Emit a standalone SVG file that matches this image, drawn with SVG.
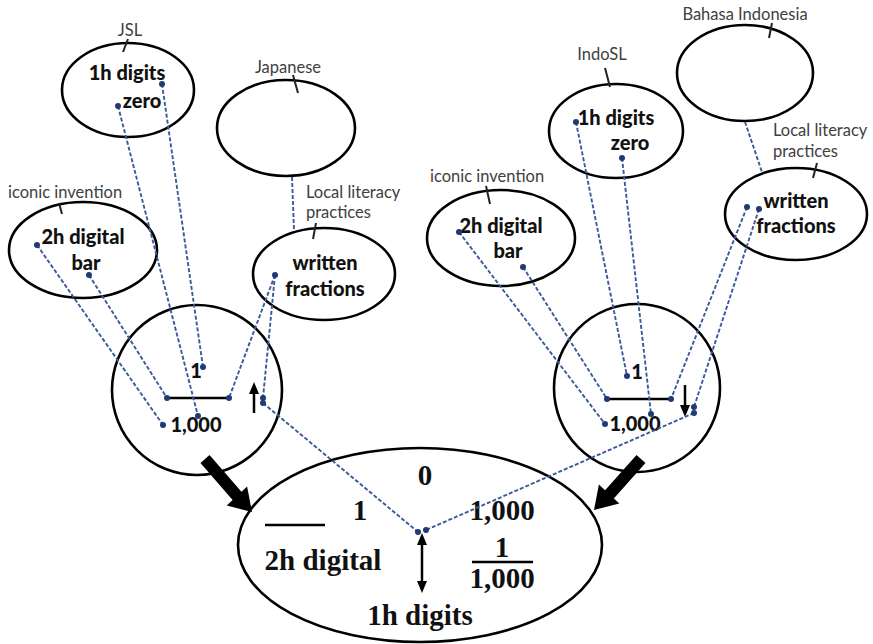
<svg xmlns="http://www.w3.org/2000/svg" width="873" height="644" viewBox="0 0 873 644">
<style>
.ell{fill:none;stroke:#000;stroke-width:2.6}
.tick{stroke:#222;stroke-width:2}
.lbl{font-family:Lato,"Liberation Sans",sans-serif;font-size:16.5px;fill:#404040}
.nt{font-family:Lato,"Liberation Sans",sans-serif;font-size:20px;font-weight:900;fill:#111;text-anchor:middle}
.bt{font-family:"Liberation Serif",serif;font-size:29px;font-weight:bold;fill:#111;text-anchor:middle}
.dash{stroke:#3a5a98;stroke-width:1.9;stroke-dasharray:4 2;fill:none}
.dot{fill:#1f3a75}
.bar{stroke:#000;stroke-width:2.5}
.arr{stroke:#000;stroke-width:2.5;fill:none}
</style>
<rect width="873" height="644" fill="#fff"/>

<!-- Left side -->
<g id="jsl">
<ellipse class="ell" cx="128" cy="90" rx="66" ry="47"/>
<text class="lbl" x="130" y="36" text-anchor="middle">JSL</text>
<line class="tick" x1="128" y1="39" x2="123" y2="52"/>
<text class="nt" x="127" y="80">1h digits</text>
<text class="nt" x="142" y="108">zero</text>
</g>
<g id="japanese">
<ellipse class="ell" cx="286" cy="128" rx="69" ry="48"/>
<text class="lbl" x="288" y="73" text-anchor="middle">Japanese</text>
<line class="tick" x1="293" y1="75" x2="298" y2="93"/>
</g>
<g id="iconic-left">
<ellipse class="ell" cx="83" cy="250" rx="74" ry="48"/>
<text class="lbl" x="8" y="198">iconic invention</text>
<line class="tick" x1="59" y1="203" x2="62" y2="214"/>
<text class="nt" x="83" y="244">2h digital</text>
<text class="nt" x="86" y="270">bar</text>
</g>
<g id="written-left">
<ellipse class="ell" cx="324" cy="274" rx="71" ry="46"/>
<text class="lbl" x="306" y="198">Local literacy</text>
<text class="lbl" x="306" y="218">practices</text>
<line class="tick" x1="316" y1="223" x2="313" y2="239"/>
<text class="nt" x="325" y="270">written</text>
<text class="nt" x="325" y="296">fractions</text>
</g>
<g id="circle-left">
<ellipse class="ell" cx="197" cy="390" rx="85" ry="85"/>
<text class="nt" x="196" y="378">1</text>
<line class="bar" x1="167" y1="398" x2="229" y2="398"/>
<text class="nt" x="196" y="432">1,000</text>
<line class="arr" x1="254" y1="413" x2="254" y2="392"/>
<polygon points="254,382 249,394 259,394" fill="#000"/>
</g>

<!-- Right side -->
<g id="indosl">
<ellipse class="ell" cx="616" cy="131" rx="67" ry="47"/>
<text class="lbl" x="602" y="60" text-anchor="middle">IndoSL</text>
<line class="tick" x1="605" y1="68" x2="610" y2="87"/>
<text class="nt" x="616" y="125">1h digits</text>
<text class="nt" x="630" y="150">zero</text>
</g>
<g id="bahasa">
<ellipse class="ell" cx="745" cy="73" rx="68" ry="48"/>
<text class="lbl" x="745" y="20" text-anchor="middle">Bahasa Indonesia</text>
<line class="tick" x1="772" y1="23" x2="769" y2="38"/>
</g>
<g id="iconic-right">
<ellipse class="ell" cx="501" cy="238" rx="74" ry="48"/>
<text class="lbl" x="430" y="182">iconic invention</text>
<line class="tick" x1="486" y1="186" x2="490" y2="204"/>
<text class="nt" x="501" y="233">2h digital</text>
<text class="nt" x="508" y="258">bar</text>
</g>
<g id="written-right">
<ellipse class="ell" cx="796" cy="214" rx="71" ry="46"/>
<text class="lbl" x="773" y="136">Local literacy</text>
<text class="lbl" x="773" y="157">practices</text>
<line class="tick" x1="817" y1="163" x2="813" y2="178"/>
<text class="nt" x="796" y="208">written</text>
<text class="nt" x="796" y="233">fractions</text>
</g>
<g id="circle-right">
<ellipse class="ell" cx="637" cy="388" rx="83" ry="84"/>
<text class="nt" x="637" y="379">1</text>
<line class="bar" x1="607" y1="399" x2="671" y2="399"/>
<text class="nt" x="635" y="431">1,000</text>
<line class="arr" x1="685" y1="385" x2="685" y2="407"/>
<polygon points="685,417 680,405 690,405" fill="#000"/>
</g>

<!-- Bottom -->
<g id="result">
<ellipse class="ell" cx="420" cy="545" rx="182" ry="97"/>
<text class="bt" x="425" y="485">0</text>
<text class="bt" x="360" y="520">1</text>
<line class="bar" x1="265" y1="525" x2="325" y2="525"/>
<text class="bt" x="502" y="520">1,000</text>
<text class="bt" x="323" y="570">2h digital</text>
<text class="bt" x="502" y="557">1</text>
<line class="bar" x1="472" y1="562" x2="533" y2="562"/>
<text class="bt" x="502" y="588">1,000</text>
<text class="bt" x="420" y="625">1h digits</text>
<line class="arr" x1="422" y1="543" x2="422" y2="582"/>
<polygon points="422,533 417,545 427,545" fill="#000"/>
<polygon points="422,593 417,581 427,581" fill="#000"/>
</g>

<!-- Thick arrows -->
<g id="big-arrows" fill="#000">
<line x1="205" y1="459" x2="238" y2="497" stroke="#000" stroke-width="12"/>
<polygon points="252,512 226.7,505.6 247.1,486.4"/>
<line x1="641" y1="459" x2="608" y2="496" stroke="#000" stroke-width="12"/>
<polygon points="594,510 619.3,503.6 598.9,484.4"/>
</g>

<!-- Connectors -->
<g id="connectors">
<line class="dash" x1="292" y1="177" x2="294" y2="230"/>
<line class="dash" x1="37" y1="245" x2="163" y2="425"/>
<line class="dash" x1="89" y1="275" x2="167" y2="398"/>
<line class="dash" x1="118" y1="106" x2="198" y2="416"/>
<line class="dash" x1="162" y1="84" x2="203" y2="367"/>
<line class="dash" x1="275" y1="275" x2="229" y2="398"/>
<line class="dash" x1="275" y1="275" x2="263" y2="398"/>
<line class="dash" x1="263" y1="403" x2="418" y2="532"/>

<line class="dash" x1="745" y1="122" x2="762" y2="172"/>
<line class="dash" x1="459" y1="232" x2="605" y2="424"/>
<line class="dash" x1="523" y1="267" x2="607" y2="399"/>
<line class="dash" x1="576" y1="122" x2="627" y2="376"/>
<line class="dash" x1="622" y1="158" x2="651" y2="414"/>
<line class="dash" x1="747" y1="207" x2="671" y2="399"/>
<line class="dash" x1="759" y1="209" x2="694" y2="407"/>
<line class="dash" x1="694" y1="413" x2="426" y2="530"/>

<g class="dot">
<circle cx="162" cy="84" r="3"/><circle cx="118" cy="106" r="3"/>
<circle cx="37" cy="245" r="3"/><circle cx="89" cy="275" r="3"/>
<circle cx="275" cy="275" r="3"/>
<circle cx="203" cy="367" r="3"/><circle cx="167" cy="398" r="3"/><circle cx="229" cy="398" r="3"/>
<circle cx="198" cy="416" r="3"/><circle cx="163" cy="425" r="3"/>
<circle cx="263" cy="398" r="3"/><circle cx="263" cy="403" r="3"/>
<circle cx="576" cy="122" r="3"/><circle cx="622" cy="158" r="3"/>
<circle cx="459" cy="232" r="3"/><circle cx="523" cy="267" r="3"/>
<circle cx="747" cy="207" r="3"/><circle cx="759" cy="209" r="3"/>
<circle cx="627" cy="376" r="3"/><circle cx="607" cy="399" r="3"/><circle cx="671" cy="399" r="3"/>
<circle cx="651" cy="414" r="3"/><circle cx="605" cy="424" r="3"/>
<circle cx="694" cy="407" r="3"/><circle cx="694" cy="413" r="3"/>
<circle cx="418" cy="532" r="3"/><circle cx="426" cy="530" r="3"/>
</g>
</g>
</svg>
